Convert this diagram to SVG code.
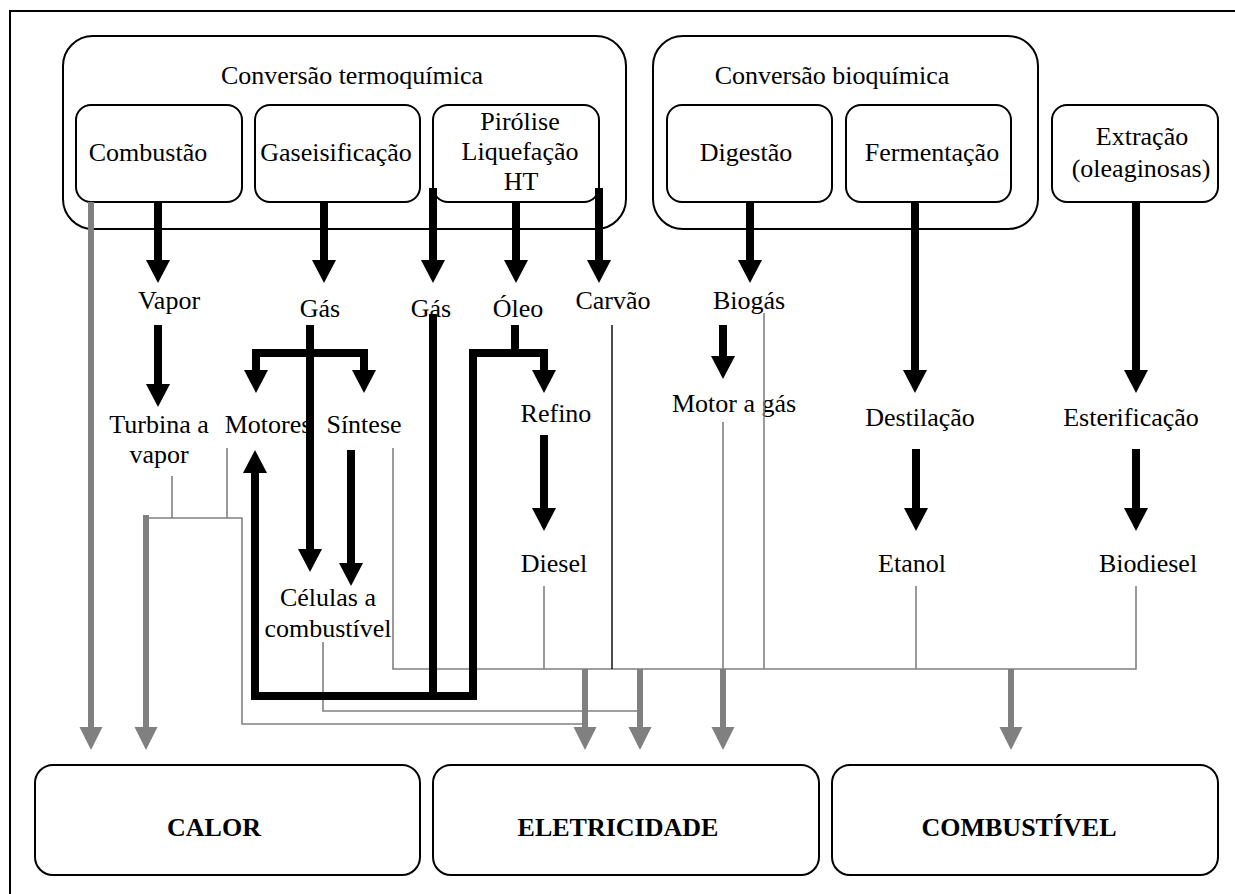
<svg xmlns="http://www.w3.org/2000/svg" width="1235" height="894" viewBox="0 0 1235 894">
<style>
.box{fill:#fff;stroke:#000;stroke-width:2}
.t{font-family:"Liberation Serif","Times New Roman",serif;font-size:26px;fill:#000;text-anchor:middle}
.b{font-weight:bold}
.blk{fill:none;stroke:#000;stroke-width:8;stroke-linejoin:miter}
.gth{fill:none;stroke:#808080;stroke-width:6}
.gtn{fill:none;stroke:#808080;stroke-width:1.6}
.btn{fill:none;stroke:#000;stroke-width:1.4}
.frame{fill:none;stroke:#000;stroke-width:2}
</style>
<defs>
<marker id="ab" markerUnits="userSpaceOnUse" markerWidth="24" markerHeight="24" refX="0" refY="12" orient="auto-start-reverse" overflow="visible">
<path d="M0,0 L23,12 L0,24 z" fill="#000"/>
</marker>
<marker id="ag" markerUnits="userSpaceOnUse" markerWidth="24" markerHeight="24" refX="0" refY="11.5" orient="auto" overflow="visible">
<path d="M0,0 L23,11.5 L0,23 z" fill="#808080"/>
</marker>
</defs>
<rect width="1235" height="894" fill="#fff"/>
<path class="frame" d="M10,894 V11 H1235"/>

<g id="termoquimica">
<rect class="box" x="63" y="36" width="563" height="193" rx="30"/>
<text class="t" x="352" y="84">Conversão termoquímica</text>
</g>
<g id="bioquimica">
<rect class="box" x="653" y="36" width="385" height="193" rx="30"/>
<text class="t" x="832" y="84">Conversão bioquímica</text>
</g>
<g id="combustao">
<rect class="box" x="76" y="105" width="166" height="97" rx="15"/>
<text class="t" x="148" y="161">Combustão</text>
</g>
<g id="gaseificacao">
<rect class="box" x="255" y="105" width="165" height="97" rx="15"/>
<text class="t" x="336" y="161">Gaseisificação</text>
</g>
<g id="pirolise">
<rect class="box" x="433" y="105" width="166" height="97" rx="15"/>
<text class="t" x="520" y="130">Pirólise</text>
<text class="t" x="520" y="160">Liquefação</text>
<text class="t" x="521" y="190">HT</text>
</g>
<g id="digestao">
<rect class="box" x="667" y="105" width="165" height="97" rx="15"/>
<text class="t" x="746" y="161">Digestão</text>
</g>
<g id="fermentacao">
<rect class="box" x="846" y="105" width="165" height="97" rx="15"/>
<text class="t" x="932" y="161">Fermentação</text>
</g>
<g id="extracao">
<rect class="box" x="1052" y="105" width="166" height="97" rx="15"/>
<text class="t" x="1142" y="145">Extração</text>
<text class="t" x="1141" y="177">(oleaginosas)</text>
</g>

<g id="vapor"><text class="t" x="169" y="309">Vapor</text></g>
<g id="gas1"><text class="t" x="320" y="317">Gás</text></g>
<g id="gas2"><text class="t" x="431" y="317">Gás</text></g>
<g id="oleo"><text class="t" x="518" y="317">Óleo</text></g>
<g id="carvao"><text class="t" x="613" y="309">Carvão</text></g>
<g id="biogas"><text class="t" x="749" y="309">Biogás</text></g>
<g id="turbina"><text class="t" x="159" y="433">Turbina a</text><text class="t" x="159" y="463">vapor</text></g>
<g id="motores"><text class="t" x="268" y="433">Motores</text></g>
<g id="sintese"><text class="t" x="364" y="433">Síntese</text></g>
<g id="refino"><text class="t" x="556" y="422">Refino</text></g>
<g id="motorgas"><text class="t" x="734" y="412">Motor a gás</text></g>
<g id="destilacao"><text class="t" x="920" y="426">Destilação</text></g>
<g id="esterificacao"><text class="t" x="1131" y="426">Esterificação</text></g>
<g id="celulas"><text class="t" x="328" y="606">Células a</text><text class="t" x="328" y="637">combustível</text></g>
<g id="diesel"><text class="t" x="554" y="572">Diesel</text></g>
<g id="etanol"><text class="t" x="912" y="572">Etanol</text></g>
<g id="biodiesel"><text class="t" x="1148" y="572">Biodiesel</text></g>

<g id="calor">
<rect class="box" x="35" y="765" width="385" height="110" rx="18"/>
<text class="t b" x="214" y="836">CALOR</text>
</g>
<g id="eletricidade">
<rect class="box" x="433" y="765" width="386" height="110" rx="18"/>
<text class="t b" x="618" y="836">ELETRICIDADE</text>
</g>
<g id="combustivel">
<rect class="box" x="832" y="765" width="386" height="110" rx="18"/>
<text class="t b" x="1019" y="836">COMBUSTÍVEL</text>
</g>

<g id="connectors">
<path class="gtn" d="M172,476 V518"/>
<path class="gtn" d="M227,448 V518"/>
<path class="gtn" d="M146,518 H242 V724 H585"/>
<path class="gtn" d="M323,642 V711 H640"/>
<path class="gtn" d="M393,448 V669 H1136 V586"/>
<path class="gtn" d="M544,586 V669"/>
<path class="gtn" d="M723,422 V669"/>
<path class="gtn" d="M764,313 V669"/>
<path class="gtn" d="M916,586 V669"/>
<path class="btn" d="M612,325 V669"/>

<path class="gth" d="M91,202 V727" marker-end="url(#ag)"/>
<path class="gth" d="M146,515 V727" marker-end="url(#ag)"/>
<path class="gth" d="M585,669 V727" marker-end="url(#ag)"/>
<path class="gth" d="M640,669 V727" marker-end="url(#ag)"/>
<path class="gth" d="M723,669 V727" marker-end="url(#ag)"/>
<path class="gth" d="M1011,669 V727" marker-end="url(#ag)"/>

<path class="blk" d="M158,202 V260" marker-end="url(#ab)"/>
<path class="blk" d="M324,202 V260" marker-end="url(#ab)"/>
<path class="blk" d="M433,188 V260" marker-end="url(#ab)"/>
<path class="blk" d="M516,202 V260" marker-end="url(#ab)"/>
<path class="blk" d="M599,188 V260" marker-end="url(#ab)"/>
<path class="blk" d="M750,202 V260" marker-end="url(#ab)"/>
<path class="blk" d="M915,202 V370" marker-end="url(#ab)"/>
<path class="blk" d="M1136,202 V370" marker-end="url(#ab)"/>
<path class="blk" d="M158,325 V384" marker-end="url(#ab)"/>
<path class="blk" d="M310,325 V549" marker-end="url(#ab)"/>
<path class="blk" d="M256,370 V353 H364 V370" marker-start="url(#ab)" marker-end="url(#ab)"/>
<path class="blk" d="M515,325 V353"/>
<path class="blk" d="M255,473 V696 H473 V353 H544 V370" marker-start="url(#ab)" marker-end="url(#ab)"/>
<path class="blk" d="M433,314 V696"/>
<path class="blk" d="M351,450 V563" marker-end="url(#ab)"/>
<path class="blk" d="M544,435 V508" marker-end="url(#ab)"/>
<path class="blk" d="M723,325 V356" marker-end="url(#ab)"/>
<path class="blk" d="M916,449 V508" marker-end="url(#ab)"/>
<path class="blk" d="M1136,449 V508" marker-end="url(#ab)"/>
</g>
</svg>
